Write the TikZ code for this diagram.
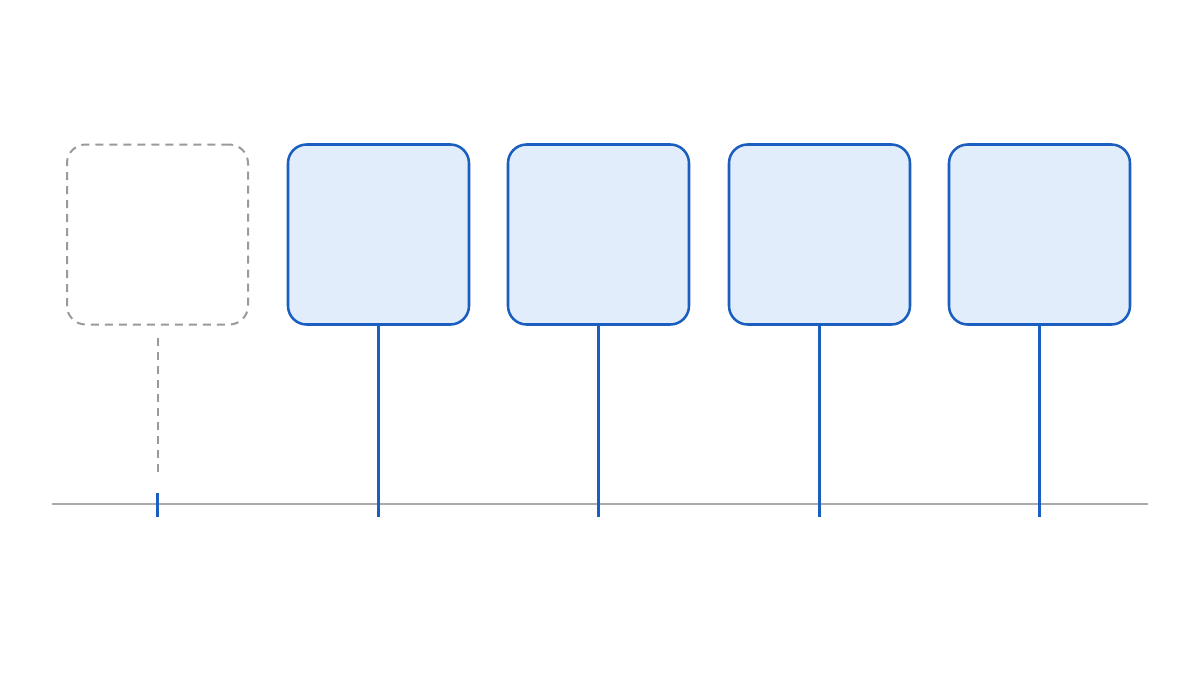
\documentclass[tikz,border=0pt]{standalone}
\definecolor{bblue}{HTML}{1A5FBF}
\definecolor{bfill}{HTML}{E1EDFB}
\definecolor{dgray}{HTML}{9A9A9A}
\definecolor{lgray}{HTML}{AAAAAA}
\begin{document}
\begin{tikzpicture}[x=0.75pt,y=-0.75pt,
  card/.style={rectangle,rounded corners=14pt,minimum width=135.75pt,minimum height=135pt,inner sep=0pt},
  activecard/.style={card,draw=bblue,fill=bfill,line width=1.9pt},
  ghostcard/.style={card,draw=dgray,line width=1.5pt,dash pattern=on 6pt off 4.5pt},
  stem/.style={draw=bblue,line width=1.6pt},
  ghoststem/.style={draw=dgray,line width=1.5pt,dash pattern=on 6pt off 4.5pt},
  axis/.style={draw=lgray,line width=1.6pt}]
\useasboundingbox[fill=white] (0,0) rectangle (1200,675);
\coordinate (axL) at (52,504);
\coordinate (axR) at (1148,504);
\draw[axis] (axL) -- (axR);
\node[ghostcard] (g) at (157.5,234.5) {};
\node[activecard] (b1) at (378.5,234.5) {};
\node[activecard] (b2) at (598.5,234.5) {};
\node[activecard] (b3) at (819.5,234.5) {};
\node[activecard] (b4) at (1039.5,234.5) {};
\coordinate (gs) at (157.5,338);
\coordinate (ge) at (157.5,478);
\coordinate (gt1) at (157.5,493);
\coordinate (gt2) at (157.5,517);
\draw[ghoststem] (gs) -- (ge);
\draw[stem] (gt1) -- (gt2);
\foreach \n/\x in {b1/378.5,b2/598.5,b3/819.5,b4/1039.5}{
  \coordinate (\n-end) at (\x,517);
  \draw[stem] (\n.south) -- (\n-end);
}
\end{tikzpicture}
\end{document}
